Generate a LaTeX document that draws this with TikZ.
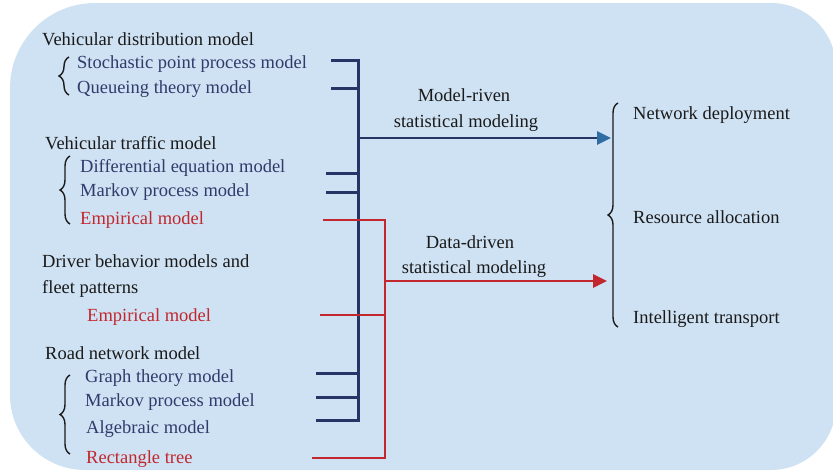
\documentclass[tikz,border=0pt]{standalone}
\usepackage{fontspec}
\setmainfont{Liberation Serif}
\usetikzlibrary{decorations.pathreplacing,arrows.meta}
\definecolor{bgc}{HTML}{CFE2F3}
\definecolor{navy}{HTML}{253566}
\definecolor{txtblue}{HTML}{2F3B6B}
\definecolor{redc}{HTML}{C1272D}
\definecolor{arrblue}{HTML}{2E6DA4}
\definecolor{txtblack}{HTML}{1A1A1A}
\begin{document}
\begin{tikzpicture}[x=1pt,y=-1pt,
  lbl/.style={font=\fontsize{18.5}{22}\selectfont, inner sep=0pt, anchor=west, yshift=-2pt},
  head/.style={lbl, text=txtblack},
  item/.style={lbl, text=txtblue},
  emp/.style={lbl, text=redc},
  mid/.style={font=\fontsize{18.5}{22}\selectfont, inner sep=0pt, text=txtblack, yshift=-2pt},
  navyline/.style={draw=navy, line width=3pt},
  redline/.style={draw=redc, line width=2.8pt},
  brc/.style={draw=txtblack, line width=1.4pt, decorate, decoration={brace, amplitude=10pt}}
]
\useasboundingbox (0,0) rectangle (833,471);
% background
\fill[bgc] (10,88) arc(180:270:85) -- (771,3) arc(270:360:65) -- (836,405) arc(0:90:65) -- (85,470) arc(90:180:75) -- cycle;

% texts
\node[head] (h1) at (42,37) {Vehicular distribution model};
\node[item] (a1) at (77,62) {Stochastic point process model};
\node[item] (a2) at (77,87) {Queueing theory model};
\node[head] (h2) at (45,141) {Vehicular traffic model};
\node[item] (b1) at (80,166) {Differential equation model};
\node[item] (b2) at (80,190) {Markov process model};
\node[emp]  (b3) at (80,218) {Empirical model};
\node[head] (h3) at (42,259) {Driver behavior models and};
\node[head] (h3b) at (42,287) {fleet patterns};
\node[emp]  (c1) at (87,315) {Empirical model};
\node[head] (h4) at (45,351) {Road network model};
\node[item] (d1) at (85,376) {Graph theory model};
\node[item] (d2) at (85,400) {Markov process model};
\node[item] (d3) at (86,427) {Algebraic model};
\node[emp]  (d4) at (86,457) {Rectangle tree};

\node[mid] (m1) at (464,93) {Model-riven};
\node[mid] (m2) at (466,121) {statistical modeling};
\node[mid] (m3) at (470,240) {Data-driven};
\node[mid] (m4) at (474,267) {statistical modeling};

\node[head] (r1) at (633,113) {Network deployment};
\node[head] (r2) at (633,215) {Resource allocation};
\node[head] (r3) at (633,317) {Intelligent transport};

% braces
\draw[brc] (69,95) -- (69,57);
\draw[brc] (70,224) -- (70,156);
\draw[brc] (70,454) -- (70,375);
\draw[brc] (618,327) -- (618,103);

% coordinates
\coordinate (sa1) at (331,60);
\coordinate (sa2) at (331,88);
\coordinate (sb1) at (326,173);
\coordinate (sb2) at (326,192);
\coordinate (sd1) at (316,373);
\coordinate (sd2) at (316,397);
\coordinate (sd3) at (316,420);
\coordinate (bt) at (358,60);
\coordinate (bb) at (358,420);
\coordinate (bm) at (358,138);
\coordinate (tipb) at (611,138);
\coordinate (sb3) at (323,220);
\coordinate (sc1) at (320,315);
\coordinate (sd4) at (312,458);
\coordinate (rt) at (385,220);
\coordinate (rb) at (385,458);
\coordinate (rm) at (385,281);
\coordinate (tipr) at (607,281);

% navy bus
\draw[navyline, line join=miter] (sa1) -- (bt) -- (bb) -- (sd3);
\draw[navyline] (sa2) -- (sa2 -| bt);
\draw[navyline] (sb1) -- (sb1 -| bt);
\draw[navyline] (sb2) -- (sb2 -| bt);
\draw[navyline] (sd1) -- (sd1 -| bt);
\draw[navyline] (sd2) -- (sd2 -| bt);
\draw[draw=navy, line width=2.8pt, -{Triangle[length=14pt,width=13pt,color=arrblue]}] (bm) -- (tipb);

% red bus
\draw[redline, line join=miter] (sb3) -- (rt) -- (rb) -- (sd4);
\draw[redline] (sc1) -- (sc1 -| rt);
\draw[draw=redc, line width=2.6pt, -{Triangle[length=14pt,width=13pt]}] (rm) -- (tipr);
\end{tikzpicture}
\end{document}
